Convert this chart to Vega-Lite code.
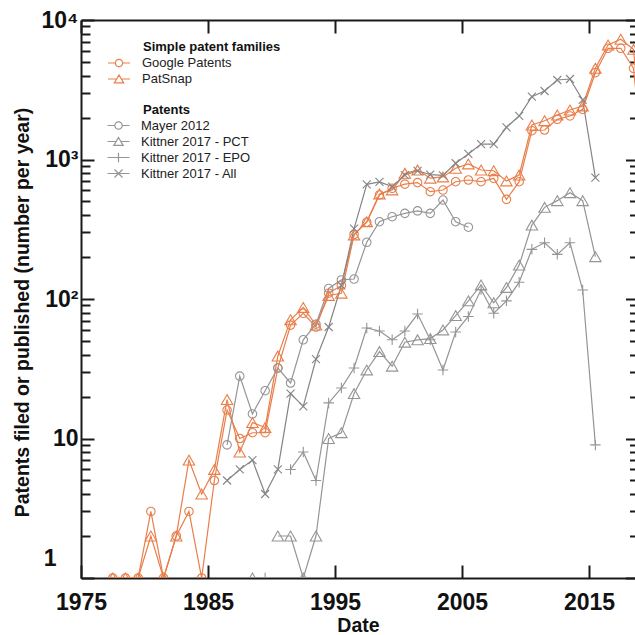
{
  "$schema": "https://vega.github.io/schema/vega-lite/v6.json",
  "autosize": {"type": "none"},
  "padding": {"left": 81, "top": 20, "right": 0, "bottom": 57},
  "width": 554,
  "height": 558,
  "background": "white",
  "config": {
    "view": {"stroke": null},
    "axis": {
      "grid": false,
      "domainColor": "#1a1a1a",
      "domainWidth": 2,
      "tickColor": "#1a1a1a",
      "tickWidth": 2,
      "labelFont": "Liberation Sans Narrow, Arial Narrow, Liberation Sans",
      "labelFontSize": 23,
      "labelFontWeight": "bold",
      "labelColor": "#111111",
      "titleFont": "Liberation Sans",
      "titleFontSize": 19.5,
      "titleFontWeight": "bold",
      "titleColor": "#111111",
      "labelOverlap": false,
      "labelFlush": false
    }
  },
  "datasets": {
    "patents": [
      {"series": "Google Patents", "date": 1977.5, "value": 1},
      {"series": "Google Patents", "date": 1978.5, "value": 1},
      {"series": "Google Patents", "date": 1979.5, "value": 1},
      {"series": "Google Patents", "date": 1980.5, "value": 3},
      {"series": "Google Patents", "date": 1981.5, "value": 1},
      {"series": "Google Patents", "date": 1982.5, "value": 2},
      {"series": "Google Patents", "date": 1983.5, "value": 3},
      {"series": "Google Patents", "date": 1984.5, "value": 1},
      {"series": "Google Patents", "date": 1985.5, "value": 5},
      {"series": "Google Patents", "date": 1986.5, "value": 16},
      {"series": "Google Patents", "date": 1987.5, "value": 10},
      {"series": "Google Patents", "date": 1988.5, "value": 11},
      {"series": "Google Patents", "date": 1989.5, "value": 11},
      {"series": "Google Patents", "date": 1990.5, "value": 32},
      {"series": "Google Patents", "date": 1991.5, "value": 65},
      {"series": "Google Patents", "date": 1992.5, "value": 79},
      {"series": "Google Patents", "date": 1993.5, "value": 63},
      {"series": "Google Patents", "date": 1994.5, "value": 110},
      {"series": "Google Patents", "date": 1995.5, "value": 125},
      {"series": "Google Patents", "date": 1996.5, "value": 290},
      {"series": "Google Patents", "date": 1997.5, "value": 355},
      {"series": "Google Patents", "date": 1998.5, "value": 557},
      {"series": "Google Patents", "date": 1999.5, "value": 622},
      {"series": "Google Patents", "date": 2000.5, "value": 666},
      {"series": "Google Patents", "date": 2001.5, "value": 683},
      {"series": "Google Patents", "date": 2002.5, "value": 588},
      {"series": "Google Patents", "date": 2003.5, "value": 604},
      {"series": "Google Patents", "date": 2004.5, "value": 693},
      {"series": "Google Patents", "date": 2005.5, "value": 713},
      {"series": "Google Patents", "date": 2006.5, "value": 693},
      {"series": "Google Patents", "date": 2007.5, "value": 733},
      {"series": "Google Patents", "date": 2008.5, "value": 518},
      {"series": "Google Patents", "date": 2009.5, "value": 693},
      {"series": "Google Patents", "date": 2010.5, "value": 1609},
      {"series": "Google Patents", "date": 2011.5, "value": 1627},
      {"series": "Google Patents", "date": 2012.5, "value": 1941},
      {"series": "Google Patents", "date": 2013.5, "value": 2051},
      {"series": "Google Patents", "date": 2014.5, "value": 2290},
      {"series": "Google Patents", "date": 2015.5, "value": 4190},
      {"series": "Google Patents", "date": 2016.5, "value": 6270},
      {"series": "Google Patents", "date": 2017.5, "value": 6270},
      {"series": "Google Patents", "date": 2018.5, "value": 4506},
      {"series": "Google Patents", "date": 2019.5, "value": 600},
      {"series": "PatSnap", "date": 1977.5, "value": 1},
      {"series": "PatSnap", "date": 1978.5, "value": 1},
      {"series": "PatSnap", "date": 1979.5, "value": 1},
      {"series": "PatSnap", "date": 1980.5, "value": 2},
      {"series": "PatSnap", "date": 1981.5, "value": 1},
      {"series": "PatSnap", "date": 1982.5, "value": 2},
      {"series": "PatSnap", "date": 1983.5, "value": 7},
      {"series": "PatSnap", "date": 1984.5, "value": 4},
      {"series": "PatSnap", "date": 1985.5, "value": 6},
      {"series": "PatSnap", "date": 1986.5, "value": 19},
      {"series": "PatSnap", "date": 1987.5, "value": 8},
      {"series": "PatSnap", "date": 1988.5, "value": 13},
      {"series": "PatSnap", "date": 1989.5, "value": 12},
      {"series": "PatSnap", "date": 1990.5, "value": 39},
      {"series": "PatSnap", "date": 1991.5, "value": 71},
      {"series": "PatSnap", "date": 1992.5, "value": 87},
      {"series": "PatSnap", "date": 1993.5, "value": 65},
      {"series": "PatSnap", "date": 1994.5, "value": 106},
      {"series": "PatSnap", "date": 1995.5, "value": 110},
      {"series": "PatSnap", "date": 1996.5, "value": 288},
      {"series": "PatSnap", "date": 1997.5, "value": 358},
      {"series": "PatSnap", "date": 1998.5, "value": 566},
      {"series": "PatSnap", "date": 1999.5, "value": 605},
      {"series": "PatSnap", "date": 2000.5, "value": 796},
      {"series": "PatSnap", "date": 2001.5, "value": 840},
      {"series": "PatSnap", "date": 2002.5, "value": 735},
      {"series": "PatSnap", "date": 2003.5, "value": 750},
      {"series": "PatSnap", "date": 2004.5, "value": 865},
      {"series": "PatSnap", "date": 2005.5, "value": 929},
      {"series": "PatSnap", "date": 2006.5, "value": 841},
      {"series": "PatSnap", "date": 2007.5, "value": 831},
      {"series": "PatSnap", "date": 2008.5, "value": 702},
      {"series": "PatSnap", "date": 2009.5, "value": 774},
      {"series": "PatSnap", "date": 2010.5, "value": 1767},
      {"series": "PatSnap", "date": 2011.5, "value": 1897},
      {"series": "PatSnap", "date": 2012.5, "value": 2084},
      {"series": "PatSnap", "date": 2013.5, "value": 2264},
      {"series": "PatSnap", "date": 2014.5, "value": 2419},
      {"series": "PatSnap", "date": 2015.5, "value": 4506},
      {"series": "PatSnap", "date": 2016.5, "value": 6617},
      {"series": "PatSnap", "date": 2017.5, "value": 7278},
      {"series": "PatSnap", "date": 2018.5, "value": 6160},
      {"series": "PatSnap", "date": 2019.5, "value": 700},
      {"series": "Mayer 2012", "date": 1986.5, "value": 9},
      {"series": "Mayer 2012", "date": 1987.5, "value": 28},
      {"series": "Mayer 2012", "date": 1988.5, "value": 15},
      {"series": "Mayer 2012", "date": 1989.5, "value": 22},
      {"series": "Mayer 2012", "date": 1990.5, "value": 32},
      {"series": "Mayer 2012", "date": 1991.5, "value": 25},
      {"series": "Mayer 2012", "date": 1992.5, "value": 51},
      {"series": "Mayer 2012", "date": 1993.5, "value": 66},
      {"series": "Mayer 2012", "date": 1994.5, "value": 119},
      {"series": "Mayer 2012", "date": 1995.5, "value": 137},
      {"series": "Mayer 2012", "date": 1996.5, "value": 139},
      {"series": "Mayer 2012", "date": 1997.5, "value": 255},
      {"series": "Mayer 2012", "date": 1998.5, "value": 358},
      {"series": "Mayer 2012", "date": 1999.5, "value": 389},
      {"series": "Mayer 2012", "date": 2000.5, "value": 411},
      {"series": "Mayer 2012", "date": 2001.5, "value": 428},
      {"series": "Mayer 2012", "date": 2002.5, "value": 411},
      {"series": "Mayer 2012", "date": 2003.5, "value": 512},
      {"series": "Mayer 2012", "date": 2004.5, "value": 358},
      {"series": "Mayer 2012", "date": 2005.5, "value": 327},
      {"series": "Kittner 2017 - PCT", "date": 1988.5, "value": 1},
      {"series": "Kittner 2017 - PCT", "date": 1989.5, "value": null},
      {"series": "Kittner 2017 - PCT", "date": 1990.5, "value": 2},
      {"series": "Kittner 2017 - PCT", "date": 1991.5, "value": 2},
      {"series": "Kittner 2017 - PCT", "date": 1992.5, "value": 1},
      {"series": "Kittner 2017 - PCT", "date": 1993.5, "value": 2},
      {"series": "Kittner 2017 - PCT", "date": 1994.5, "value": 10},
      {"series": "Kittner 2017 - PCT", "date": 1995.5, "value": 11},
      {"series": "Kittner 2017 - PCT", "date": 1996.5, "value": 21},
      {"series": "Kittner 2017 - PCT", "date": 1997.5, "value": 31},
      {"series": "Kittner 2017 - PCT", "date": 1998.5, "value": 42},
      {"series": "Kittner 2017 - PCT", "date": 1999.5, "value": 33},
      {"series": "Kittner 2017 - PCT", "date": 2000.5, "value": 49},
      {"series": "Kittner 2017 - PCT", "date": 2001.5, "value": 51},
      {"series": "Kittner 2017 - PCT", "date": 2002.5, "value": 52},
      {"series": "Kittner 2017 - PCT", "date": 2003.5, "value": 60},
      {"series": "Kittner 2017 - PCT", "date": 2004.5, "value": 76},
      {"series": "Kittner 2017 - PCT", "date": 2005.5, "value": 97},
      {"series": "Kittner 2017 - PCT", "date": 2006.5, "value": 126},
      {"series": "Kittner 2017 - PCT", "date": 2007.5, "value": 94},
      {"series": "Kittner 2017 - PCT", "date": 2008.5, "value": 121},
      {"series": "Kittner 2017 - PCT", "date": 2009.5, "value": 175},
      {"series": "Kittner 2017 - PCT", "date": 2010.5, "value": 339},
      {"series": "Kittner 2017 - PCT", "date": 2011.5, "value": 454},
      {"series": "Kittner 2017 - PCT", "date": 2012.5, "value": 507},
      {"series": "Kittner 2017 - PCT", "date": 2013.5, "value": 578},
      {"series": "Kittner 2017 - PCT", "date": 2014.5, "value": 507},
      {"series": "Kittner 2017 - PCT", "date": 2015.5, "value": 201},
      {"series": "Kittner 2017 - EPO", "date": 1989.5, "value": 1},
      {"series": "Kittner 2017 - EPO", "date": 1990.5, "value": null},
      {"series": "Kittner 2017 - EPO", "date": 1991.5, "value": 6},
      {"series": "Kittner 2017 - EPO", "date": 1992.5, "value": 8},
      {"series": "Kittner 2017 - EPO", "date": 1993.5, "value": 5},
      {"series": "Kittner 2017 - EPO", "date": 1994.5, "value": 18},
      {"series": "Kittner 2017 - EPO", "date": 1995.5, "value": 23},
      {"series": "Kittner 2017 - EPO", "date": 1996.5, "value": 32},
      {"series": "Kittner 2017 - EPO", "date": 1997.5, "value": 62},
      {"series": "Kittner 2017 - EPO", "date": 1998.5, "value": 59},
      {"series": "Kittner 2017 - EPO", "date": 1999.5, "value": 51},
      {"series": "Kittner 2017 - EPO", "date": 2000.5, "value": 59},
      {"series": "Kittner 2017 - EPO", "date": 2001.5, "value": 78},
      {"series": "Kittner 2017 - EPO", "date": 2002.5, "value": 51},
      {"series": "Kittner 2017 - EPO", "date": 2003.5, "value": 31},
      {"series": "Kittner 2017 - EPO", "date": 2004.5, "value": 58},
      {"series": "Kittner 2017 - EPO", "date": 2005.5, "value": 75},
      {"series": "Kittner 2017 - EPO", "date": 2006.5, "value": 117},
      {"series": "Kittner 2017 - EPO", "date": 2007.5, "value": 79},
      {"series": "Kittner 2017 - EPO", "date": 2008.5, "value": 97},
      {"series": "Kittner 2017 - EPO", "date": 2009.5, "value": 132},
      {"series": "Kittner 2017 - EPO", "date": 2010.5, "value": 227},
      {"series": "Kittner 2017 - EPO", "date": 2011.5, "value": 253},
      {"series": "Kittner 2017 - EPO", "date": 2012.5, "value": 209},
      {"series": "Kittner 2017 - EPO", "date": 2013.5, "value": 253},
      {"series": "Kittner 2017 - EPO", "date": 2014.5, "value": 116},
      {"series": "Kittner 2017 - EPO", "date": 2015.5, "value": 9},
      {"series": "Kittner 2017 - All", "date": 1986.5, "value": 5},
      {"series": "Kittner 2017 - All", "date": 1987.5, "value": 6},
      {"series": "Kittner 2017 - All", "date": 1988.5, "value": 7},
      {"series": "Kittner 2017 - All", "date": 1989.5, "value": 4},
      {"series": "Kittner 2017 - All", "date": 1990.5, "value": 6},
      {"series": "Kittner 2017 - All", "date": 1991.5, "value": 21},
      {"series": "Kittner 2017 - All", "date": 1992.5, "value": 17},
      {"series": "Kittner 2017 - All", "date": 1993.5, "value": 37},
      {"series": "Kittner 2017 - All", "date": 1994.5, "value": 63},
      {"series": "Kittner 2017 - All", "date": 1995.5, "value": 125},
      {"series": "Kittner 2017 - All", "date": 1996.5, "value": 320},
      {"series": "Kittner 2017 - All", "date": 1997.5, "value": 664},
      {"series": "Kittner 2017 - All", "date": 1998.5, "value": 690},
      {"series": "Kittner 2017 - All", "date": 1999.5, "value": 640},
      {"series": "Kittner 2017 - All", "date": 2000.5, "value": 774},
      {"series": "Kittner 2017 - All", "date": 2001.5, "value": 830},
      {"series": "Kittner 2017 - All", "date": 2002.5, "value": 780},
      {"series": "Kittner 2017 - All", "date": 2003.5, "value": 770},
      {"series": "Kittner 2017 - All", "date": 2004.5, "value": 940},
      {"series": "Kittner 2017 - All", "date": 2005.5, "value": 1096},
      {"series": "Kittner 2017 - All", "date": 2006.5, "value": 1291},
      {"series": "Kittner 2017 - All", "date": 2007.5, "value": 1291},
      {"series": "Kittner 2017 - All", "date": 2008.5, "value": 1702},
      {"series": "Kittner 2017 - All", "date": 2009.5, "value": 2051},
      {"series": "Kittner 2017 - All", "date": 2010.5, "value": 2819},
      {"series": "Kittner 2017 - All", "date": 2011.5, "value": 3098},
      {"series": "Kittner 2017 - All", "date": 2012.5, "value": 3715},
      {"series": "Kittner 2017 - All", "date": 2013.5, "value": 3776},
      {"series": "Kittner 2017 - All", "date": 2014.5, "value": 2672},
      {"series": "Kittner 2017 - All", "date": 2015.5, "value": 741}
    ]
  },
  "data": {"name": "patents"},
  "resolve": {
    "scale": {"shape": "independent"},
    "axis": {"x": "independent", "y": "independent"}
  },
  "layer": [
    {
      "mark": {"type": "line", "strokeWidth": 1.2, "clip": true, "invalid": "break-paths-show-domains"},
      "encoding": {
        "x": {
          "field": "date", "type": "quantitative",
          "scale": {"domain": [1975, 2018.62], "nice": false, "zero": false},
          "axis": {
            "orient": "bottom",
            "values": [1975, 1985, 1995, 2005, 2015],
            "format": "d",
            "tickSize": -13,
            "labelPadding": 26,
            "title": "Date",
            "titleY": 47,
            "titleBaseline": "middle"
          }
        },
        "y": {
          "field": "value", "type": "quantitative",
          "scale": {"type": "log", "domain": [1, 10000], "nice": false},
          "axis": {
            "orient": "left",
            "values": [1, 2, 3, 4, 5, 6, 7, 8, 9, 10, 20, 30, 40, 50, 60, 70, 80, 90, 100, 200, 300, 400, 500, 600, 700, 800, 900, 1000, 2000, 3000, 4000, 5000, 6000, 7000, 8000, 9000, 10000],
            "labelExpr": "datum.value == 10000 ? '10⁴' : datum.value == 1000 ? '10³' : datum.value == 100 ? '10²' : datum.value == 10 ? '10' : datum.value == 1 ? '1' : ''",
            "tickSize": {"condition": {"test": "datum.value == 1 || datum.value == 10 || datum.value == 100 || datum.value == 1000 || datum.value == 10000", "value": -13}, "value": -9},
            "labelPadding": {"condition": {"test": "datum.value == 1", "value": 38}, "value": 16},
            "labelOffset": {"condition": {"test": "datum.value == 1", "value": -20}, "value": 0},
            "title": "Patents filed or published (number per year)",
            "titleX": -59,
            "titleY": 292,
            "titleBaseline": "middle"
          }
        },
        "color": {
          "field": "series", "type": "nominal",
          "scale": {
            "domain": ["Google Patents", "PatSnap", "Mayer 2012", "Kittner 2017 - PCT", "Kittner 2017 - EPO", "Kittner 2017 - All"],
            "range": ["#E97E4A", "#E97E4A", "#959595", "#959595", "#959595", "#858585"]
          },
          "legend": null
        }
      }
    },
    {
      "transform": [{"filter": "datum.series == 'Google Patents' || datum.series == 'Mayer 2012'"}],
      "mark": {"type": "point", "shape": "circle", "size": 72, "filled": false, "strokeWidth": 1.1, "opacity": 1, "clip": true},
      "encoding": {
        "x": {"field": "date", "type": "quantitative", "axis": null},
        "y": {"field": "value", "type": "quantitative", "axis": null},
        "color": {"field": "series", "type": "nominal", "legend": null}
      }
    },
    {
      "transform": [{"filter": "datum.series == 'PatSnap' || datum.series == 'Kittner 2017 - PCT'"}],
      "mark": {"type": "point", "shape": "triangle-up", "size": 130, "filled": false, "strokeWidth": 1.1, "opacity": 1, "clip": true},
      "encoding": {
        "x": {"field": "date", "type": "quantitative", "axis": null},
        "y": {"field": "value", "type": "quantitative", "axis": null},
        "color": {"field": "series", "type": "nominal", "legend": null}
      }
    },
    {
      "transform": [{"filter": "datum.series == 'Kittner 2017 - EPO'"}],
      "mark": {"type": "point", "shape": "M-1,0H1M0,-1V1", "size": 110, "filled": false, "strokeWidth": 1.1, "opacity": 1, "clip": true},
      "encoding": {
        "x": {"field": "date", "type": "quantitative", "axis": null},
        "y": {"field": "value", "type": "quantitative", "axis": null},
        "color": {"field": "series", "type": "nominal", "legend": null}
      }
    },
    {
      "transform": [{"filter": "datum.series == 'Kittner 2017 - All'"}],
      "mark": {"type": "point", "shape": "M-1,-1L1,1M-1,1L1,-1", "size": 64, "filled": false, "strokeWidth": 1.1, "opacity": 1, "clip": true},
      "encoding": {
        "x": {"field": "date", "type": "quantitative", "axis": null},
        "y": {"field": "value", "type": "quantitative", "axis": null},
        "color": {"field": "series", "type": "nominal", "legend": null}
      }
    },
    {
      "transform": [{"filter": "datum.series == 'Google Patents' || datum.series == 'PatSnap'"}],
      "mark": {"type": "point", "opacity": 0, "filled": false},
      "encoding": {
        "x": {"field": "date", "type": "quantitative", "axis": null},
        "y": {"field": "value", "type": "quantitative", "axis": null},
        "shape": {
          "field": "series", "type": "nominal",
          "scale": {
            "domain": ["Google Patents", "PatSnap"],
            "range": [
              "M-1.375,0H-0.46M0.46,0H1.375M0.46,0A0.46,0.46,0,1,1,-0.46,0A0.46,0.46,0,1,1,0.46,0Z",
              "M-1.375,0H-0.28M0.28,0H1.375M0,-0.5L0.58,0.48L-0.58,0.48Z"
            ]
          },
          "legend": {
            "title": "Simple patent families",
            "orient": "none",
            "legendX": 62,
            "legendY": 21,
            "titleFont": "Liberation Sans",
            "titleFontSize": 13,
            "titleFontWeight": "bold",
            "titleColor": "#111111",
            "titlePadding": 0,
            "labelFont": "Liberation Sans",
            "labelFontSize": 13,
            "labelColor": "#222222",
            "labelOffset": 14,
            "symbolOffset": -33,
            "symbolSize": 256,
            "symbolStrokeWidth": 1.2,
            "symbolStrokeColor": "#E97E4A",
            "symbolFillColor": "transparent",
            "symbolOpacity": 1,
            "rowPadding": 0
          }
        }
      }
    },
    {
      "transform": [{"filter": "datum.series != 'Google Patents' && datum.series != 'PatSnap'"}],
      "mark": {"type": "point", "opacity": 0, "filled": false},
      "encoding": {
        "x": {"field": "date", "type": "quantitative", "axis": null},
        "y": {"field": "value", "type": "quantitative", "axis": null},
        "shape": {
          "field": "series", "type": "nominal",
          "scale": {
            "domain": ["Mayer 2012", "Kittner 2017 - PCT", "Kittner 2017 - EPO", "Kittner 2017 - All"],
            "range": [
              "M-1.42,0H-0.48M0.48,0H1.42M0.48,0A0.48,0.48,0,1,1,-0.48,0A0.48,0.48,0,1,1,0.48,0Z",
              "M-1.42,0H-0.29M0.29,0H1.42M0,-0.52L0.6,0.5L-0.6,0.5Z",
              "M-1.42,0H1.42M0,-0.62V0.62",
              "M-1.42,0H1.42M-0.52,-0.52L0.52,0.52M-0.52,0.52L0.52,-0.52"
            ]
          },
          "legend": {
            "title": "Patents",
            "orient": "none",
            "legendX": 62,
            "legendY": 84,
            "titleFont": "Liberation Sans",
            "titleFontSize": 13,
            "titleFontWeight": "bold",
            "titleColor": "#111111",
            "titlePadding": 0,
            "labelFont": "Liberation Sans",
            "labelFontSize": 13,
            "labelColor": "#222222",
            "labelOffset": 14,
            "symbolOffset": -33,
            "symbolSize": 240,
            "symbolStrokeWidth": 1.2,
            "symbolStrokeColor": "#959595",
            "symbolFillColor": "transparent",
            "symbolOpacity": 1,
            "rowPadding": 0
          }
        }
      }
    },
    {
      "mark": {"type": "point", "opacity": 0},
      "encoding": {
        "x": {
          "field": "date", "type": "quantitative",
          "axis": {"orient": "top", "values": [1975, 1985, 1995, 2005, 2015], "tickSize": -13, "labels": false, "title": null}
        },
        "y": {
          "field": "value", "type": "quantitative",
          "axis": {
            "orient": "right",
            "values": [1, 2, 3, 4, 5, 6, 7, 8, 9, 10, 20, 30, 40, 50, 60, 70, 80, 90, 100, 200, 300, 400, 500, 600, 700, 800, 900, 1000, 2000, 3000, 4000, 5000, 6000, 7000, 8000, 9000, 10000],
            "tickSize": {"condition": {"test": "datum.value == 1 || datum.value == 10 || datum.value == 100 || datum.value == 1000 || datum.value == 10000", "value": -13}, "value": -9},
            "labels": false,
            "domain": false,
            "offset": 3.5,
            "title": null
          }
        }
      }
    }
  ]
}
